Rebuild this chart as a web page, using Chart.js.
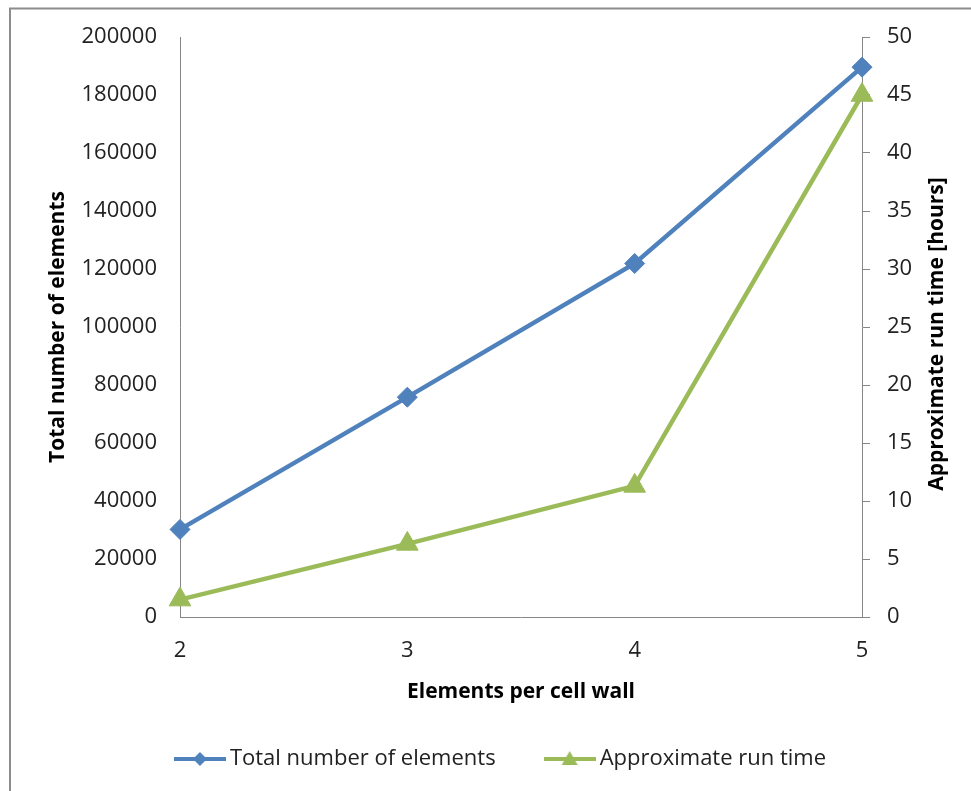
<!DOCTYPE html>
<html>
<head>
<meta charset="utf-8">
<title>Elements per cell wall</title>
<script src="https://cdn.jsdelivr.net/npm/chart.js@4/dist/chart.umd.min.js"></script>
<style>
  html, body { margin: 0; padding: 0; background: #fff; }
  #wrap { width: 971px; height: 791px; }
</style>
</head>
<body>
<div id="wrap"><canvas id="chart" width="971" height="791"></canvas></div>
<script>
'use strict';

// data
const elementsPerWall = ['2', '3', '4', '5'];
const totalElements = [30200, 75800, 121900, 189600];
const runTimeHours = [1.5, 6.3, 11.3, 45];

const leftTitle = 'Total number of elements';
const rightTitle = 'Approximate run time [hours]';
const xTitle = 'Elements per cell wall';

const BLUE = '#4F81BD';
const GREEN = '#9BBB59';
const AXIS = '#868686';
const FONT = '"Open Sans", "DejaVu Sans", sans-serif';

// legend swatch: short line with the marker on it
function swatch(color, shape){
  const c = document.createElement('canvas');
  c.width = 52; c.height = 22;
  const g = c.getContext('2d');
  g.strokeStyle = color; g.lineWidth = 4;
  g.beginPath(); g.moveTo(0, 11); g.lineTo(52, 11); g.stroke();
  g.fillStyle = color;
  g.beginPath();
  if(shape === 'diamond'){
    g.moveTo(26, 4); g.lineTo(33, 11); g.lineTo(26, 18); g.lineTo(19, 11);
  } else {
    g.moveTo(26, 3); g.lineTo(34, 17); g.lineTo(18, 17);
  }
  g.closePath(); g.fill();
  return c;
}

const frame = {
  id: 'frame',
  beforeDraw(chart){
    const ctx = chart.ctx;
    ctx.save();
    ctx.strokeStyle = '#8c8c8c'; ctx.lineWidth = 2;
    ctx.beginPath();
    ctx.moveTo(10, chart.height); ctx.lineTo(10, 8.5); ctx.lineTo(chart.width, 8.5);
    ctx.stroke();
    ctx.restore();
  }
};

// right axis title reads bottom-to-top like the left one
const rightAxisTitle = {
  id: 'rightAxisTitle',
  afterDraw(chart){
    const a = chart.chartArea, ctx = chart.ctx;
    ctx.save();
    ctx.translate(chart.width - 34, (a.top + a.bottom) / 2 + 7);
    ctx.rotate(-Math.PI / 2);
    ctx.font = 'bold 21px ' + FONT;
    ctx.fillStyle = '#000';
    ctx.textAlign = 'center';
    ctx.textBaseline = 'middle';
    ctx.fillText(rightTitle, 0, 0);
    ctx.restore();
  }
};

const tickFont = { family: FONT, size: 22 };
const titleFont = { family: FONT, size: 21, weight: 'bold' };

new Chart(document.getElementById('chart'), {
  type: 'line',
  data: {
    labels: elementsPerWall,
    datasets: [
      {
        label: 'Total number of elements',
        data: totalElements,
        yAxisID: 'y',
        borderColor: BLUE, backgroundColor: BLUE,
        borderWidth: 4.5, tension: 0,
        pointStyle: 'rectRot', pointRadius: 10, pointBorderWidth: 1,
        pointBackgroundColor: BLUE, pointBorderColor: BLUE,
        clip: false
      },
      {
        label: 'Approximate run time',
        data: runTimeHours,
        yAxisID: 'y1',
        borderColor: GREEN, backgroundColor: GREEN,
        borderWidth: 4.5, tension: 0,
        pointStyle: 'triangle', pointRadius: 12.5, pointBorderWidth: 1,
        pointBackgroundColor: GREEN, pointBorderColor: GREEN,
        clip: false
      }
    ]
  },
  options: {
    responsive: false,
    animation: false,
    layout: { padding: { left: 36, right: 0, top: 37, bottom: 11 } },
    plugins: {
      tooltip: { enabled: false },
      legend: {
        position: 'bottom',
        labels: {
          font: tickFont, color: '#222', padding: 55,
          usePointStyle: true, pointStyleWidth: 38,
          generateLabels: chart => chart.data.datasets.map((ds, i) => ({
            text: ds.label, datasetIndex: i,
            pointStyle: swatch(ds.borderColor, i === 0 ? 'diamond' : 'triangle'),
            fillStyle: ds.borderColor, strokeStyle: ds.borderColor, lineWidth: 0,
            fontColor: '#222', hidden: false
          }))
        }
      }
    },
    scales: {
      x: {
        type: 'category',
        offset: false,
        afterFit: s => { s.height = 76; },
        grid: { display: true, drawOnChartArea: false, drawTicks: false, color: AXIS },
        border: { display: true, color: AXIS, width: 1 },
        ticks: { font: tickFont, color: '#222', padding: 21, maxRotation: 0 },
        title: { display: true, text: xTitle, font: titleFont, color: '#000', padding: { top: 0, bottom: -12 } }
      },
      y: {
        position: 'left',
        min: 0, max: 200000,
        afterFit: s => { s.width = 144; },
        grid: { display: true, drawOnChartArea: false, drawTicks: false, color: AXIS },
        border: { display: true, color: AXIS, width: 1 },
        ticks: { stepSize: 20000, font: tickFont, color: '#222', padding: 23, callback: v => String(v) },
        title: { display: true, text: leftTitle, font: titleFont, color: '#000', padding: { top: 9, bottom: 0 } }
      },
      y1: {
        position: 'right',
        min: 0, max: 50,
        afterFit: s => { s.width = 109; },
        grid: { display: true, drawOnChartArea: false, drawTicks: true, tickLength: 8, color: AXIS },
        border: { display: true, color: AXIS, width: 1 },
        ticks: { stepSize: 5, font: tickFont, color: '#222', padding: 17, callback: v => String(v) }
      }
    }
  },
  plugins: [frame, rightAxisTitle]
});
</script>
</body>
</html>
